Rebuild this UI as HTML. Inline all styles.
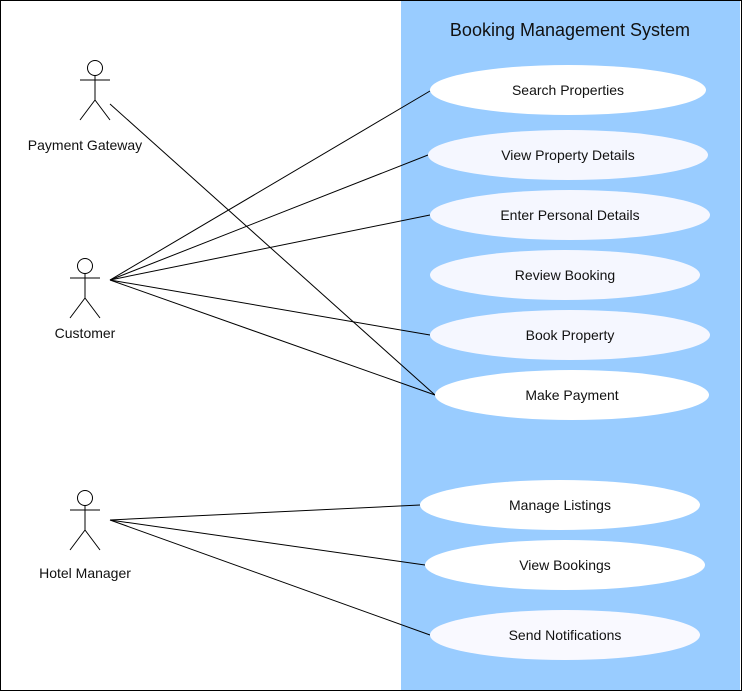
<!DOCTYPE html>
<html><head><meta charset="utf-8"><style>html,body{margin:0;padding:0;background:#fff}svg{display:block}</style></head>
<body>
<svg width="742" height="691" viewBox="0 0 742 691" xmlns="http://www.w3.org/2000/svg" font-family="Liberation Sans, sans-serif">
<rect x="0.5" y="0.5" width="741" height="690" fill="#fff" stroke="#000"/>
<rect x="401" y="1" width="339" height="689" fill="#99CCFF"/>
<text x="570" y="36" font-size="18" text-anchor="middle" fill="#111">Booking Management System</text>
<g stroke="#000" stroke-width="1" fill="none">
<line x1="110" y1="104" x2="435" y2="395"/>
<line x1="110" y1="280" x2="430" y2="91"/>
<line x1="110" y1="280" x2="428" y2="155"/>
<line x1="110" y1="280" x2="430" y2="215"/>
<line x1="110" y1="280" x2="430" y2="335"/>
<line x1="110" y1="280" x2="435" y2="395"/>
<line x1="110" y1="520" x2="420" y2="505"/>
<line x1="110" y1="520" x2="425" y2="565"/>
<line x1="110" y1="520" x2="430" y2="635"/>
</g>
<g font-size="14" text-anchor="middle" fill="#111">
<ellipse cx="568" cy="90" rx="138" ry="25" fill="#fff"/><text x="568" y="95">Search Properties</text>
<ellipse cx="568" cy="155" rx="140" ry="25" fill="#F5F7FF"/><text x="568" y="160">View Property Details</text>
<ellipse cx="570" cy="215" rx="140" ry="25" fill="#F5F7FF"/><text x="570" y="220">Enter Personal Details</text>
<ellipse cx="565" cy="275" rx="135" ry="25" fill="#F5F7FF"/><text x="565" y="280">Review Booking</text>
<ellipse cx="570" cy="335" rx="140" ry="25" fill="#F5F7FF"/><text x="570" y="340">Book Property</text>
<ellipse cx="572" cy="395" rx="137" ry="25" fill="#fff"/><text x="572" y="400">Make Payment</text>
<ellipse cx="560" cy="505" rx="140" ry="25" fill="#fff"/><text x="560" y="510">Manage Listings</text>
<ellipse cx="565" cy="565" rx="140" ry="25" fill="#fff"/><text x="565" y="570">View Bookings</text>
<ellipse cx="565" cy="635" rx="135" ry="25" fill="#F9F9FF"/><text x="565" y="640">Send Notifications</text>
</g>
<g stroke="#000" fill="#fff">
<circle cx="95" cy="68" r="7.5"/><path d="M95 75.5V100M80 80H110M95 100L80 120M95 100L110 120" fill="none"/>
<circle cx="85" cy="266" r="7.5"/><path d="M85 273.5V298M70 278H100M85 298L70 318M85 298L100 318" fill="none"/>
<circle cx="85" cy="498" r="7.5"/><path d="M85 505.5V530M70 510H100M85 530L70 550M85 530L100 550" fill="none"/>
</g>
<g font-size="14" text-anchor="middle" fill="#111">
<text x="85" y="150">Payment Gateway</text>
<text x="85" y="338">Customer</text>
<text x="85" y="578">Hotel Manager</text>
</g>
</svg>
</body></html>
